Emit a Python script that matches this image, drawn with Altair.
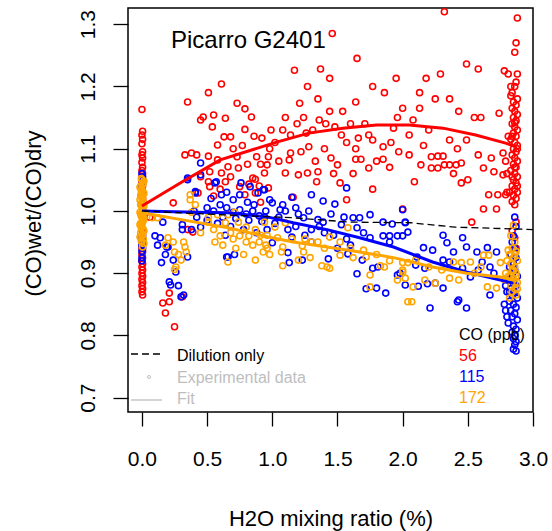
import altair as alt
import pandas as pd

FONT = "Liberation Sans"

# ---- data (x = H2O %, y = wet/dry ratio) ----
RED_COLUMN_Y = [1.163, 1.128, 1.122, 1.115, 1.108, 1.095, 1.09, 1.085, 1.078, 1.07, 1.065, 1.06,
                1.055, 1.05, 1.045, 1.04, 1.035, 1.03, 1.025, 1.02, 0.97, 0.965, 0.96, 0.955,
                0.95, 0.945, 0.94, 0.935, 0.93, 0.925, 0.92, 0.915, 0.91, 0.905, 0.9, 0.895,
                0.89, 0.885, 0.88, 0.875, 0.87, 0.865]
RED_COLUMN_X = [0.0, 0.005, 0.0, 0.005, 0.0, 0.005, 0.0, 0.005, 0.0, 0.005, 0.0, 0.005,
                0.0, 0.005, 0.0, 0.005, 0.0, 0.005, 0.0, 0.005, 0.0, 0.005, 0.0, 0.005,
                0.0, 0.005, 0.0, 0.005, 0.0, 0.005, 0.0, 0.005, 0.0, 0.005, 0.0, 0.005,
                0.0, 0.005, 0.0, 0.005, 0.0, 0.005]

RED_SCATTER = [
    (0.61, 1.204), (0.51, 1.19), (0.35, 1.175), (0.73, 1.173), (0.79, 1.164), (0.47, 1.151),
    (0.55, 1.154), (0.64, 1.149), (0.84, 1.151), (0.45, 1.146), (0.54, 1.135), (0.79, 1.131),
    (0.63, 1.119), (0.68, 1.119), (0.92, 1.117), (0.58, 1.106), (0.38, 1.093), (0.42, 1.09),
    (0.51, 1.088), (0.73, 1.087), (0.88, 1.087), (0.97, 1.087), (0.81, 1.075), (0.91, 1.075),
    (0.96, 1.074), (0.66, 1.071), (0.74, 1.069), (0.61, 1.061), (0.94, 1.061), (0.45, 1.055),
    (0.85, 1.053), (0.51, 1.047), (0.64, 1.047), (0.82, 1.043), (0.87, 1.051), (0.75, 1.039),
    (0.52, 1.039), (0.97, 1.037), (0.91, 1.014), (0.24, 1.013), (0.87, 1.029), (0.43, 1.029),
    (0.58, 1.082), (0.52, 1.063), (0.55, 1.024), (0.79, 1.026), (0.35, 0.97), (0.39, 0.966),
    (0.06, 0.99), (0.16, 0.852), (0.21, 0.854), (0.18, 0.836), (0.21, 0.868), (0.25, 0.814),
    (0.31, 0.862), (0.33, 1.09), (0.7, 1.1), (0.86, 1.12), (0.98, 1.1), (0.9, 1.04),
    (0.68, 1.055), (0.6, 1.035), (0.99, 1.13), (0.77, 1.105),
    (1.65, 1.245), (1.17, 1.226), (1.37, 1.228), (1.44, 1.213), (1.27, 1.2), (1.77, 1.2),
    (1.95, 1.213), (2.18, 1.213), (2.29, 1.22), (2.49, 1.236), (2.58, 1.228), (2.78, 1.225),
    (1.86, 1.19), (2.13, 1.19), (2.25, 1.18), (2.36, 1.18), (2.43, 1.16), (2.0, 1.165),
    (2.13, 1.165), (1.64, 1.175), (1.54, 1.16), (1.44, 1.16), (1.35, 1.18), (1.21, 1.173),
    (1.1, 1.15), (1.24, 1.15), (1.36, 1.146), (1.41, 1.14), (1.71, 1.14), (2.08, 1.146),
    (2.55, 1.15), (2.6, 1.15), (2.74, 1.157), (1.08, 1.13), (1.14, 1.122), (1.26, 1.125),
    (1.53, 1.122), (1.66, 1.117), (1.74, 1.122), (1.93, 1.133), (2.05, 1.122), (1.57, 1.11),
    (1.77, 1.114), (1.91, 1.11), (2.16, 1.105), (2.36, 1.114), (2.49, 1.114), (1.22, 1.095),
    (1.28, 1.103), (1.4, 1.1), (1.14, 1.093), (1.64, 1.1), (1.85, 1.103), (1.97, 1.095),
    (2.22, 1.087), (2.27, 1.088), (2.31, 1.088), (2.68, 1.085), (2.77, 1.093), (1.45, 1.085),
    (1.64, 1.083), (1.68, 1.083), (1.8, 1.08), (1.85, 1.083), (1.05, 1.08), (1.13, 1.082),
    (1.5, 1.074), (1.74, 1.069), (2.14, 1.074), (2.22, 1.069), (2.27, 1.069), (2.32, 1.074),
    (2.36, 1.074), (2.41, 1.074), (2.45, 1.077), (2.62, 1.069), (2.7, 1.063), (1.35, 1.063),
    (1.27, 1.061), (1.62, 1.06), (1.47, 1.06), (1.1, 1.061), (1.2, 1.058), (2.39, 1.06),
    (2.77, 1.058), (1.34, 1.047), (2.45, 1.045), (2.09, 1.047), (1.77, 1.035), (2.66, 1.026),
    (2.73, 1.026), (2.79, 1.026), (1.16, 1.022), (2.62, 1.003), (2.72, 1.003), (2.53, 0.982),
    (1.57, 1.018), (2.0, 1.003), (1.46, 1.285), (2.32, 1.32), (1.19, 1.14), (1.31, 1.13),
    (1.48, 1.135), (1.6, 1.14), (1.96, 1.15), (2.2, 1.13), (2.42, 1.1), (2.58, 1.09),
    (1.02, 1.11), (1.9, 1.07), (2.05, 1.09), (1.33, 1.08), (2.5, 1.05), (1.52, 1.045),
]

RED_RIGHT = [
    (2.88, 1.31), (2.87, 1.27), (2.86, 1.255), (2.88, 1.22), (2.87, 1.207), (2.86, 1.2),
    (2.84, 1.19), (2.83, 1.185), (2.88, 1.18), (2.85, 1.175), (2.87, 1.17), (2.84, 1.165),
    (2.86, 1.16), (2.88, 1.155), (2.85, 1.15), (2.87, 1.145), (2.84, 1.14), (2.86, 1.135),
    (2.88, 1.13), (2.85, 1.125), (2.87, 1.12), (2.83, 1.115), (2.86, 1.11), (2.88, 1.105),
    (2.85, 1.1), (2.87, 1.095), (2.84, 1.09), (2.86, 1.085), (2.88, 1.08), (2.85, 1.075),
    (2.87, 1.07), (2.83, 1.065), (2.86, 1.06), (2.88, 1.055), (2.85, 1.05), (2.87, 1.045),
    (2.84, 1.04), (2.86, 1.035), (2.88, 1.03), (2.85, 1.025), (2.87, 1.02), (2.84, 1.015),
    (2.86, 1.01), (2.87, 0.982), (2.84, 0.968), (2.86, 1.142), (2.84, 1.12), (2.88, 1.1),
    (2.86, 1.07), (2.84, 1.055), (2.88, 1.04), (2.82, 1.03), (2.8, 1.03), (2.79, 1.08),
    (2.81, 1.12), (2.8, 1.06), (2.81, 1.22), (2.83, 1.2), (2.86, 0.957), (2.87, 0.94),
]

BLUE_COLUMN = [
    (0.0, 1.06), (0.005, 1.055), (0.0, 1.05), (0.005, 1.045), (0.0, 1.04), (0.0, 1.035),
    (0.005, 0.96), (0.0, 0.955), (0.005, 0.95), (0.0, 0.945), (0.005, 0.94), (0.0, 0.935),
    (0.0, 0.925), (0.0, 0.92),
]

BLUE_SCATTER = [
    (0.14, 0.957), (0.19, 0.942), (0.31, 0.97), (0.38, 0.97), (0.65, 0.926), (0.35, 0.926),
    (0.16, 0.982), (0.31, 0.978), (0.45, 0.974), (0.2, 0.942), (0.15, 0.917), (0.24, 0.921),
    (0.18, 0.93), (0.26, 0.902), (0.21, 0.886), (0.22, 0.881), (0.3, 0.862), (0.32, 0.865),
    (0.66, 0.926), (0.71, 0.93), (0.64, 0.961), (0.28, 0.88), (0.1, 0.96), (0.12, 0.945),
    (0.45, 1.077), (0.45, 1.058), (0.35, 1.053), (0.41, 1.029), (0.56, 1.045), (0.61, 1.026),
    (0.75, 1.026), (0.83, 1.039), (0.89, 1.029), (0.94, 1.034), (0.7, 1.018), (0.81, 1.014),
    (0.98, 1.018), (0.35, 1.05), (0.41, 1.031), (0.57, 1.047), (0.5, 1.005), (0.55, 1.0),
    (0.6, 1.01), (0.65, 1.005), (0.7, 0.998), (0.75, 1.002), (0.8, 0.995), (0.85, 1.0),
    (0.9, 0.992), (0.95, 1.0), (0.62, 0.99), (0.72, 0.988), (0.82, 0.985), (0.92, 0.983),
    (0.5, 0.985), (0.4, 1.0), (0.58, 0.98), (0.68, 0.975), (0.78, 0.97), (0.88, 0.965),
    (0.96, 0.97), (0.53, 1.02), (0.86, 1.01), (0.65, 1.03), (0.76, 1.045), (0.42, 0.99),
    (1.57, 1.037), (0.93, 1.034), (1.0, 1.013), (1.15, 1.022), (1.3, 1.026), (1.39, 1.016),
    (1.48, 1.011), (1.06, 1.002), (0.94, 0.99), (1.24, 0.989), (1.35, 0.986), (1.39, 0.982),
    (1.62, 0.989), (1.67, 0.989), (1.75, 0.994), (1.85, 0.982), (1.92, 0.979), (2.02, 0.982),
    (2.0, 1.002), (1.53, 0.978), (1.65, 0.973), (1.3, 0.97), (1.47, 0.961), (1.57, 0.955),
    (1.75, 0.957), (1.85, 0.96), (1.9, 0.96), (1.96, 0.96), (2.0, 0.96), (1.9, 0.95),
    (1.15, 0.958), (1.25, 0.961), (1.0, 0.949), (1.12, 0.933), (1.43, 0.923), (1.58, 0.931),
    (1.69, 0.921), (1.13, 0.917), (1.23, 0.921), (1.77, 0.908), (1.81, 0.91), (1.96, 0.897),
    (1.98, 0.9), (1.65, 0.899), (1.72, 0.875), (1.8, 0.876), (1.87, 0.868), (2.02, 0.881),
    (1.05, 0.99), (1.1, 1.0), (1.2, 0.995), (1.18, 0.975), (1.4, 0.965), (1.3, 0.95),
    (1.6, 0.945), (1.08, 1.01), (1.18, 1.005), (1.28, 1.0), (1.45, 0.995), (1.55, 0.99),
    (1.02, 0.98), (1.12, 0.97), (1.36, 0.975), (1.7, 0.965), (1.5, 0.94),
    (2.02, 0.981), (2.04, 0.966), (2.31, 0.961), (2.34, 0.949), (2.46, 0.957), (2.49, 0.942),
    (2.16, 0.941), (2.23, 0.937), (2.39, 0.934), (2.57, 0.934), (2.65, 0.941), (2.72, 0.934),
    (2.11, 0.926), (2.31, 0.921), (2.36, 0.918), (2.61, 0.918), (2.67, 0.91), (2.1, 0.913),
    (2.17, 0.908), (2.46, 0.908), (2.52, 0.894), (2.12, 0.879), (2.19, 0.883), (2.25, 0.884),
    (2.31, 0.876), (2.67, 0.865), (2.21, 0.844), (2.42, 0.854), (2.49, 0.844), (2.8, 0.87),
    (2.43, 0.857), (2.58, 0.905), (2.7, 0.9),
]

BLUE_RIGHT = [
    (2.86, 0.99), (2.87, 0.975), (2.85, 0.96), (2.84, 0.95), (2.86, 0.94), (2.83, 0.93),
    (2.87, 0.925), (2.85, 0.915), (2.82, 0.91), (2.86, 0.905), (2.84, 0.9), (2.88, 0.895),
    (2.81, 0.89), (2.85, 0.885), (2.87, 0.88), (2.83, 0.875), (2.86, 0.87), (2.84, 0.865),
    (2.88, 0.86), (2.82, 0.855), (2.85, 0.85), (2.87, 0.845), (2.83, 0.84), (2.86, 0.835),
    (2.84, 0.83), (2.88, 0.825), (2.81, 0.82), (2.85, 0.815), (2.87, 0.81), (2.84, 0.805),
    (2.86, 0.8), (2.85, 0.795), (2.87, 0.79), (2.86, 0.785), (2.85, 0.778), (2.87, 0.775),
    (2.79, 0.84), (2.8, 0.83), (2.78, 0.85), (2.82, 0.87), (2.79, 0.88),
]

ORANGE_COLUMN = [
    (0.0, 1.05), (0.01, 1.045), (-0.01, 1.04), (0.0, 1.035), (0.01, 1.03), (-0.01, 1.025),
    (0.0, 1.02), (0.01, 1.015), (-0.01, 1.01), (0.0, 1.005), (0.01, 1.0), (-0.01, 0.995),
    (0.0, 0.99), (0.01, 0.985), (-0.01, 0.98), (0.0, 0.975), (0.01, 0.97), (-0.01, 0.965),
    (0.0, 0.96), (0.01, 0.955), (0.0, 0.95), (0.0, 1.01), (0.0, 0.995), (0.0, 0.98),
    (0.0, 1.025), (0.015, 1.048), (-0.015, 1.038), (0.015, 1.028), (-0.015, 1.018),
    (0.015, 1.008), (-0.015, 0.998), (0.015, 0.988), (-0.015, 0.978), (0.015, 0.968),
    (-0.015, 0.958), (0.015, 0.948), (-0.005, 1.052), (0.005, 1.042), (-0.005, 1.032),
    (0.005, 1.022), (-0.005, 1.012), (0.005, 1.002), (-0.005, 0.992), (0.005, 0.982),
    (-0.005, 0.972), (0.005, 0.962), (-0.005, 0.952), (0.005, 0.942),
]

ORANGE_SCATTER = [
    (0.37, 1.018), (0.41, 1.01), (0.37, 1.026), (0.38, 0.998), (0.08, 0.989), (0.12, 0.989),
    (0.51, 0.99), (0.58, 0.994), (0.66, 0.994), (0.71, 0.998), (0.51, 0.982), (0.64, 0.981),
    (0.74, 0.982), (0.8, 0.974), (0.87, 0.97), (0.91, 0.961), (0.2, 0.957), (0.24, 0.95),
    (0.18, 0.945), (0.33, 0.942), (0.25, 0.934), (0.28, 0.93), (0.34, 0.934), (0.3, 0.921),
    (0.26, 0.91), (0.56, 0.95), (0.8, 0.95), (0.85, 0.945), (0.66, 0.918), (0.87, 0.921),
    (0.93, 0.934), (0.25, 0.906), (0.32, 0.95), (0.45, 0.965), (0.55, 0.97), (0.6, 0.96),
    (0.68, 0.965), (0.75, 0.96), (0.7, 0.955), (0.82, 0.96), (0.9, 0.95), (0.95, 0.945),
    (0.62, 0.945), (0.72, 0.94), (0.78, 0.93), (0.98, 0.93),
    (0.94, 0.982), (1.02, 0.974), (1.1, 0.981), (0.96, 0.961), (1.04, 0.957), (1.08, 0.942),
    (0.96, 0.94), (1.07, 0.934), (1.23, 0.944), (1.24, 0.934), (1.3, 0.95), (1.35, 0.95),
    (1.44, 0.958), (1.52, 0.95), (1.58, 0.973), (1.08, 0.912), (1.2, 0.921), (1.29, 0.925),
    (1.38, 0.912), (1.42, 0.91), (1.44, 0.908), (1.52, 0.929), (1.62, 0.925), (1.7, 0.937),
    (1.72, 0.926), (1.75, 0.897), (1.83, 0.912), (1.86, 0.91), (1.96, 0.889), (2.0, 0.902),
    (2.04, 0.917), (1.75, 0.878), (2.04, 0.854), (1.15, 0.955), (1.25, 0.955), (1.4, 0.94),
    (1.6, 0.94), (1.8, 0.93), (1.9, 0.92),
    (2.0, 0.917), (2.0, 0.905), (2.02, 0.892), (2.1, 0.921), (2.17, 0.889), (2.08, 0.878),
    (2.25, 0.884), (2.36, 0.892), (2.43, 0.889), (2.39, 0.918), (2.45, 0.917), (2.52, 0.918),
    (2.62, 0.929), (2.66, 0.929), (2.65, 0.878), (2.72, 0.876), (2.07, 0.854), (2.81, 0.937),
    (2.75, 0.917), (2.2, 0.91), (2.3, 0.905), (2.55, 0.9), (2.6, 0.91),
]

ORANGE_RIGHT = [
    (2.85, 0.977), (2.83, 0.96), (2.86, 0.95), (2.84, 0.94), (2.87, 0.935), (2.82, 0.93),
    (2.85, 0.925), (2.88, 0.92), (2.83, 0.915), (2.86, 0.91), (2.84, 0.905), (2.87, 0.9),
    (2.81, 0.895), (2.85, 0.89), (2.88, 0.885), (2.83, 0.88), (2.86, 0.875), (2.84, 0.87),
    (2.87, 0.865), (2.82, 0.86), (2.8, 0.92), (2.79, 0.9), (2.78, 0.89), (2.86, 0.93),
    (2.84, 0.915), (2.87, 0.895), (2.85, 0.905), (2.83, 0.895), (2.86, 0.885), (2.88, 0.875),
]

RED_FIT_X = [0.0, 0.31, 0.6, 1.04, 1.28, 1.54, 1.8, 2.05, 2.31, 2.56, 2.79, 2.87]
RED_FIT_Y = [1.008, 1.047, 1.082, 1.111, 1.125, 1.133, 1.138, 1.138, 1.133, 1.122, 1.109, 1.103]
BLUE_FIT_X = [0.0, 0.41, 0.66, 0.97, 1.16, 1.42, 1.67, 1.93, 2.23, 2.49, 2.75, 2.85]
BLUE_FIT_Y = [1.0, 0.998, 0.997, 0.99, 0.981, 0.97, 0.957, 0.942, 0.918, 0.902, 0.889, 0.884]
ORANGE_FIT_X = [0.0, 0.41, 0.66, 0.97, 1.16, 1.42, 1.67, 1.93, 2.23, 2.49, 2.75, 2.85]
ORANGE_FIT_Y = [0.997, 0.982, 0.973, 0.958, 0.95, 0.942, 0.934, 0.925, 0.91, 0.9, 0.894, 0.889]
DILUTION_X = [0.0, 0.5, 1.16, 1.6, 2.06, 2.4, 2.87, 3.0]
DILUTION_Y = [1.0, 0.995, 0.989, 0.982, 0.981, 0.974, 0.971, 0.97]

X_TICKS = [0.0, 0.5, 1.0, 1.5, 2.0, 2.5, 3.0]
Y_TICKS = [0.7, 0.8, 0.9, 1.0, 1.1, 1.2, 1.3]
CO_LEVELS = ["56", "115", "172"]
COLORS = ["#FF0000", "#0000FF", "#FFA500"]
GREY = "#BEBEBE"

# ---- build tables ----
def pts(pairs):
    return pd.DataFrame(pairs, columns=["x", "y"])

red_df = pd.concat([pd.DataFrame({"x": RED_COLUMN_X, "y": RED_COLUMN_Y}),
                    pts(RED_SCATTER), pts(RED_RIGHT)], ignore_index=True)
blue_df = pd.concat([pts(BLUE_COLUMN), pts(BLUE_SCATTER), pts(BLUE_RIGHT)], ignore_index=True)
orange_df = pd.concat([pts(ORANGE_COLUMN), pts(ORANGE_SCATTER), pts(ORANGE_RIGHT)], ignore_index=True)

xscale = alt.Scale(domain=[-0.107, 3.0], nice=False, zero=False)
yscale = alt.Scale(domain=[0.677, 1.326], nice=False, zero=False)

xaxis = alt.Axis(values=X_TICKS, format=".1f", domain=False, grid=False, tickSize=14,
                 tickWidth=1.3, tickColor="black", labelFontSize=21, labelFont=FONT,
                 labelColor="black", labelPadding=22, labelFlush=False, labelOverlap=False,
                 title="H2O mixing ratio (%)", titleFont=FONT, titleFontSize=22,
                 titleFontWeight="normal", titleColor="black", titleY=106,
                 titleBaseline="middle")
yaxis = alt.Axis(values=Y_TICKS, format=".1f", domain=False, grid=False, tickSize=15,
                 tickWidth=1.3, tickColor="black", labelFontSize=21, labelFont=FONT,
                 labelColor="black", labelAngle=270, labelAlign="center",
                 labelBaseline="bottom", labelPadding=15, labelFlush=False,
                 labelOverlap=False, title="(CO)wet/(CO)dry", titleFont=FONT,
                 titleFontSize=22, titleFontWeight="normal", titleColor="black",
                 titleAngle=270, titleX=-95, titleY=205, titleAlign="center",
                 titleBaseline="middle")

X_ENC = alt.X("x:Q", scale=xscale, axis=xaxis)
Y_ENC = alt.Y("y:Q", scale=yscale, axis=yaxis)


def scatter(df, color):
    return alt.Chart(df).mark_point(shape="circle", filled=False, color=color, size=36,
                                    strokeWidth=1.6, opacity=1).encode(x=X_ENC, y=Y_ENC)


def fit(xs, ys, color, width=3, dash=None):
    df = pd.DataFrame({"x": xs, "y": ys})
    kw = dict(color=color, strokeWidth=width)
    if dash:
        kw["strokeDash"] = dash
    return alt.Chart(df).mark_line(**kw).encode(x=X_ENC, y=Y_ENC)


layers = [
    scatter(red_df, COLORS[0]),
    scatter(blue_df, COLORS[1]),
    scatter(orange_df, COLORS[2]),
    fit(RED_FIT_X, RED_FIT_Y, COLORS[0]),
    fit(BLUE_FIT_X, BLUE_FIT_Y, COLORS[1]),
    fit(ORANGE_FIT_X, ORANGE_FIT_Y, COLORS[2]),
    fit(DILUTION_X, DILUTION_Y, "black", width=1.3, dash=[7, 4]),
]

# ---- annotations / legend (pixel positions inside plot area) ----
one = pd.DataFrame({"k": [0]})


def label(text, x, y, color="black", size=16, align="left"):
    return alt.Chart(one).mark_text(text=text, font=FONT, fontSize=size, color=color,
                                    align=align, baseline="middle").encode(
        x=alt.value(x), y=alt.value(y))


layers += [
    label("Picarro G2401", 43, 33, size=24),
    alt.Chart(one).mark_rule(color="black", strokeWidth=1.3, strokeDash=[7, 4]).encode(
        x=alt.value(3), x2=alt.value(34), y=alt.value(346)),
    label("Dilution only", 49, 348),
    alt.Chart(one).mark_point(shape="circle", filled=False, color=GREY, size=9,
                              strokeWidth=1, opacity=1).encode(
        x=alt.value(21), y=alt.value(369)),
    label("Experimental data", 49, 369.5, color=GREY),
    alt.Chart(one).mark_rule(color=GREY, strokeWidth=1.3).encode(
        x=alt.value(3), x2=alt.value(34), y=alt.value(392)),
    label("Fit", 49, 390.5, color=GREY),
    label("CO (ppb)", 331, 327),
    label(CO_LEVELS[0], 331, 348, color=COLORS[0]),
    label(CO_LEVELS[1], 331, 368.5, color=COLORS[1]),
    label(CO_LEVELS[2], 331, 389.5, color=COLORS[2]),
]

chart = alt.layer(*layers).properties(
    width=405, height=404,
    autosize=alt.AutoSizeParams(type="none"),
    padding={"left": 128, "top": 8, "right": 19, "bottom": 119},
    background="white",
).configure_view(stroke="black", strokeWidth=1.5)

chart.save("out.html", embed_options={"renderer": "svg", "actions": False})
